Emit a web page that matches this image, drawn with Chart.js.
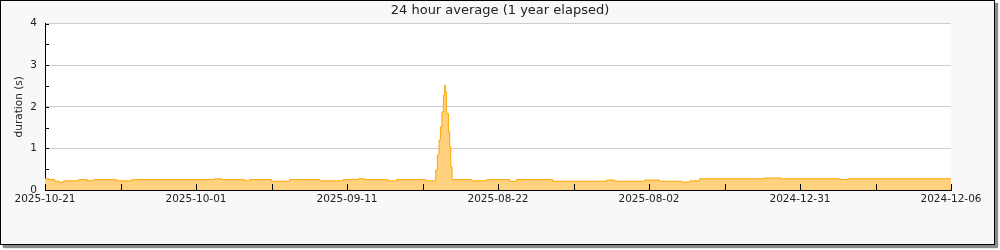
<!DOCTYPE html>
<html>
<head>
<meta charset="utf-8">
<script src="https://cdn.jsdelivr.net/npm/chart.js@4/dist/chart.umd.min.js"></script>
<style>
  html, body { margin: 0; padding: 0; background: #fff; }
  #frame {
    position: absolute; left: 0; top: 0;
    width: 993px; height: 243px;
    border: 1px solid #000;
    background: #f8f8f8;
    box-shadow: 3px 3px 1px #8a8a8a;
  }
  #wrap { position: absolute; left: 0; top: 0; width: 1000px; height: 250px; }
</style>
</head>
<body>
<div id="frame"></div>
<div id="wrap"><canvas id="chart" width="1000" height="250"></canvas></div>
<script>
  // x = days elapsed from the left edge, each value held until the next offset
  const dayOffsets = [0, 0.53, 1.28, 1.85, 2.48, 4.46, 5.56, 6.45, 9.46, 11.52,
    22.48, 23.36, 26.45, 27.11, 29.99, 32.41, 36.38, 39.47, 41.46, 42.34,
    45.43, 46.54, 50.42, 51.75, 51.97, 52.19, 52.37, 52.58, 52.77, 52.94,
    53.03, 53.16, 53.43, 53.60, 53.74, 53.91, 56.52, 58.5, 61.55, 62.48,
    67.25, 74.4, 75.46, 79.43, 81.42, 84.33, 85.39, 86.71, 95.32, 97.44,
    105.26, 106.32, 120];
  const durations = [0.27, 0.25, 0.21, 0.19, 0.22, 0.25, 0.22, 0.25, 0.22, 0.25,
    0.27, 0.25, 0.22, 0.25, 0.21, 0.25, 0.22, 0.25, 0.27, 0.25,
    0.22, 0.25, 0.22, 0.48, 0.84, 1.2, 1.52, 1.88, 2.28, 2.52,
    2.36, 1.84, 1.4, 1.04, 0.56, 0.25, 0.22, 0.25, 0.21, 0.25,
    0.21, 0.24, 0.21, 0.24, 0.21, 0.19, 0.22, 0.27, 0.29, 0.27,
    0.25, 0.27, 0.27];
  const dateLabels = ["2025-10-21", "2025-10-01", "2025-09-11", "2025-08-22",
    "2025-08-02", "2024-12-31", "2024-12-06"];

  const FONT = "'DejaVu Sans', sans-serif";

  // white plot area + inward tick marks like the original
  const plotDecor = {
    id: "plotDecor",
    beforeDraw(chart) {
      const a = chart.chartArea, ctx = chart.ctx;
      ctx.save();
      ctx.fillStyle = "#ffffff";
      ctx.fillRect(a.left, a.top, a.right - a.left, a.bottom - a.top);
      ctx.restore();
    },
    afterDraw(chart) {
      const a = chart.chartArea, ctx = chart.ctx;
      const xs = chart.scales.x, ys = chart.scales.y;
      ctx.save();
      ctx.strokeStyle = "#000";
      ctx.lineWidth = 1;
      ctx.beginPath();
      xs.ticks.forEach((t) => {
        const px = Math.round(xs.getPixelForValue(t.value)) + 0.5;
        ctx.moveTo(px, a.bottom);
        ctx.lineTo(px, a.bottom - 6);
      });
      ys.ticks.forEach((t) => {
        const py = Math.round(ys.getPixelForValue(t.value)) + 0.5;
        ctx.moveTo(a.left, py);
        ctx.lineTo(a.left + 4, py);
      });
      ctx.stroke();
      ctx.restore();
    },
  };

  new Chart(document.getElementById("chart"), {
    type: "line",
    data: {
      datasets: [{
        data: dayOffsets.map((d, i) => ({ x: d, y: durations[i] })),
        stepped: "before",
        borderColor: "#ffa500",
        borderWidth: 1,
        backgroundColor: "#ffd27f",
        fill: "origin",
        pointRadius: 0,
      }],
    },
    options: {
      responsive: false,
      animation: false,
      events: [],
      layout: { padding: 0 },
      plugins: {
        legend: { display: false },
        tooltip: { enabled: false },
        title: {
          display: true,
          text: "24 hour average (1 year elapsed)",
          color: "#222",
          font: { family: FONT, size: 13, weight: "normal" },
          padding: { top: 3, bottom: 5 },
        },
      },
      scales: {
        x: {
          type: "linear",
          min: 0,
          max: 120,
          afterFit: (s) => { s.height = 60; },
          grid: { color: "rgba(0,0,0,0)", drawTicks: false },
          border: { display: true, color: "#000", width: 1 },
          ticks: {
            stepSize: 10,
            autoSkip: false,
            maxRotation: 0,
            padding: 3,
            color: "#222",
            font: { family: FONT, size: 10.5 },
            callback: (v) => (v % 20 === 0 ? dateLabels[v / 20] : ""),
          },
        },
        y: {
          min: 0,
          max: 4,
          afterFit: (s) => { s.width = 45; },
          grid: {
            drawTicks: false,
            color: (c) => (c.tick && c.tick.value > 0 && Number.isInteger(c.tick.value) ? "#cccccc" : "rgba(0,0,0,0)"),
          },
          border: { display: true, color: "#000", width: 1 },
          ticks: {
            stepSize: 0.5,
            padding: 8,
            color: "#222",
            font: { family: FONT, size: 10.5 },
            callback: (v) => (Number.isInteger(v) ? String(v) : ""),
          },
          title: {
            display: true,
            text: "duration (s)",
            color: "#222",
            font: { family: FONT, size: 10.5 },
            padding: { top: 13, bottom: 0 },
          },
        },
        yRight: {
          position: "right",
          display: true,
          afterFit: (s) => { s.width = 49; },
          grid: { display: false, drawTicks: false },
          border: { display: false },
          ticks: { display: false },
        },
      },
    },
    plugins: [plotDecor],
  });
</script>
</body>
</html>
